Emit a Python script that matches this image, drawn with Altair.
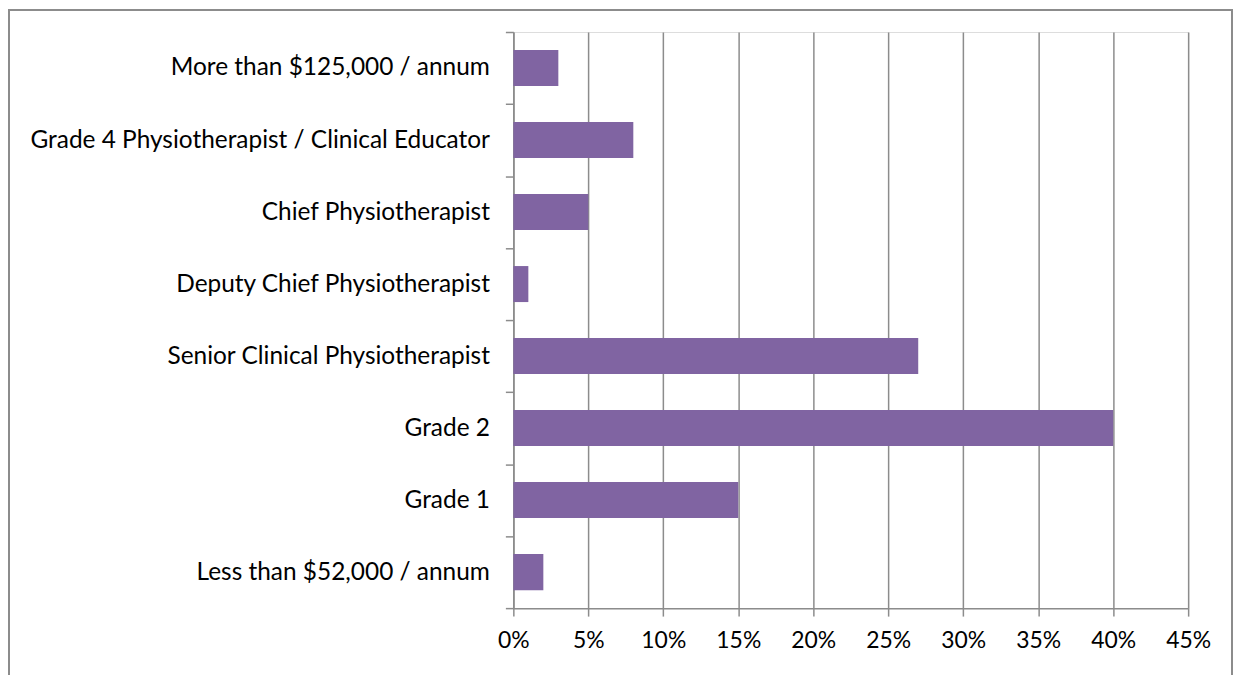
import altair as alt
import pandas as pd

categories = [
    "More than $125,000 / annum",
    "Grade 4 Physiotherapist / Clinical Educator\u00a0",
    "Chief Physiotherapist\u00a0",
    "Deputy Chief Physiotherapist\u00a0",
    "Senior Clinical Physiotherapist\u00a0",
    "Grade 2\u00a0\u00a0",
    "Grade 1\u00a0",
    "Less than $52,000 / annum",
]
values = [3, 8, 5, 1, 27, 40, 15, 2]
tick_values = [0, 5, 10, 15, 20, 25, 30, 35, 40, 45]

df = pd.DataFrame({"category": categories, "value": [v / 100 for v in values]})

GRAY = "#8c8c8c"
FONT = "Lato"

bars = alt.Chart(df).mark_bar(color="#8064A2", height={"band": 0.5}).encode(
    x=alt.X(
        "value:Q",
        scale=alt.Scale(domain=[0, 0.45], nice=False),
        axis=alt.Axis(
            values=[t / 100 for t in tick_values],
            format=".0%",
            title=None,
            grid=True,
            gridColor=GRAY,
            gridWidth=1.5,
            domainColor=GRAY,
            domainWidth=1.5,
            tickColor=GRAY,
            tickWidth=1.5,
            tickSize=8,
            labelFontSize=23,
            labelColor="#000000",
            labelPadding=13,
            labelFlush=False,
            labelFont=FONT,
        ),
    ),
    y=alt.Y(
        "category:N",
        sort=categories,
        scale=alt.Scale(paddingInner=0, paddingOuter=0),
        axis=alt.Axis(
            title=None,
            tickBand="extent",
            domainColor=GRAY,
            domainWidth=1.5,
            tickColor=GRAY,
            tickWidth=1.5,
            tickSize=8,
            labelFontSize=24.5,
            labelColor="#000000",
            labelPadding=16,
            labelLimit=0,
            labelFont=FONT,
        ),
    ),
)

border = alt.Chart(alt.Data(values=[{}])).mark_rect(
    fill=None, stroke=GRAY, strokeWidth=2, clip=False
).encode(
    x=alt.value(-506),
    x2=alt.value(721),
    y=alt.value(-22),
    y2=alt.value(700),
)

chart = alt.layer(border, bars).properties(
    width=677,
    height=578,
    autosize=alt.AutoSizeParams(type="none"),
    padding={"left": 507, "top": 23, "right": 46, "bottom": 66},
).configure_view(stroke=None).configure(font=FONT, background="white")

chart.save("out.html", embed_options={"renderer": "svg", "actions": False})
